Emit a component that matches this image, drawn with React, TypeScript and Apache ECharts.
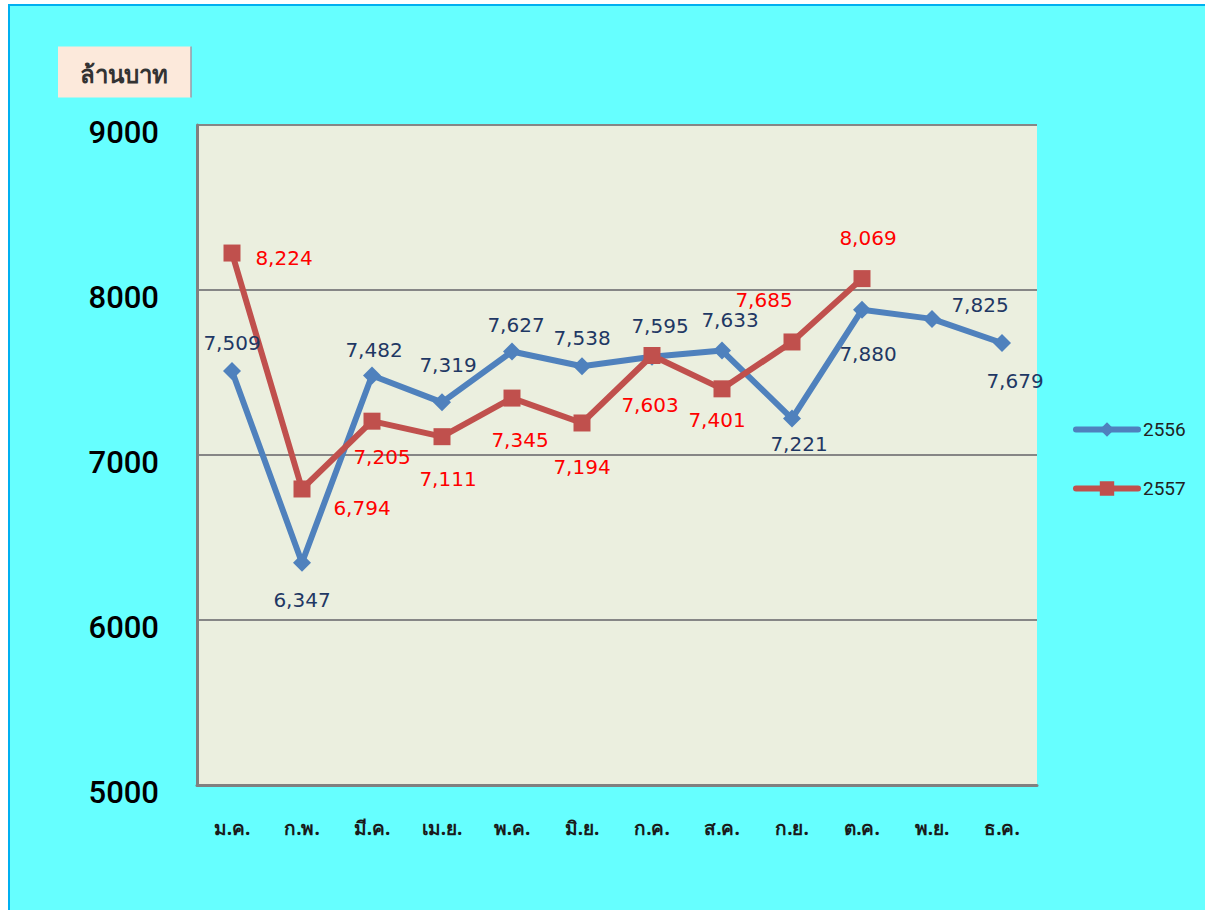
import React, { useEffect, useRef } from "react";
import * as echarts from "echarts";

const months = ["ม.ค.", "ก.พ.", "มี.ค.", "เม.ย.", "พ.ค.", "มิ.ย.", "ก.ค.", "ส.ค.", "ก.ย.", "ต.ค.", "พ.ย.", "ธ.ค."];
const values2556 = [7509, 6347, 7482, 7319, 7627, 7538, 7595, 7633, 7221, 7880, 7825, 7679];
const values2557 = [8224, 6794, 7205, 7111, 7345, 7194, 7603, 7401, 7685, 8069, null, null];
const seriesNames = ["2556", "2557"];
const unitLabel = "ล้านบาท";

// label offsets (placement config, relative to each point)
const offsets2556: number[][] = [
  [0, -28], [0, 37], [2, -25], [6, -37], [4, -27], [0, -28],
  [8, -31], [8, -31], [7, 25], [6, 44], [48, -14], [13, 38],
];
const offsets2557: number[][] = [
  [52, 5], [60, 19], [10, 36], [6, 42], [8, 42], [0, 44],
  [-2, 49], [-5, 31], [-28, -42], [6, -41], [0, 0], [0, 0],
];

const fmt = (v: number) => v.toLocaleString("en-US");

export default function App() {
  const ref = useRef<HTMLDivElement>(null);
  useEffect(() => {
    if (!ref.current) return;
    const chart = echarts.init(ref.current, null, { renderer: "svg" });
    const build = (vals: (number | null)[], offs: number[][]) =>
      vals.map((v, i) => (v == null ? null : { value: v, label: { offset: offs[i] } }));
    chart.setOption({
      animation: false,
      backgroundColor: "transparent",
      textStyle: { fontFamily: "'DejaVu Sans', 'Noto Sans', sans-serif" },
      grid: {
        left: 197,
        top: 125,
        width: 840,
        height: 660,
        show: true,
        backgroundColor: "#EBEFDF",
        borderWidth: 0,
      },
      legend: {
        orient: "vertical",
        left: 1073,
        top: 420,
        padding: 0,
        itemWidth: 62,
        itemHeight: 18,
        itemGap: 40,
        data: seriesNames,
        lineStyle: { width: 6, cap: "round" },
        textStyle: { fontSize: 19, color: "#222", fontFamily: "Roboto, sans-serif" },
      },
      xAxis: {
        type: "category",
        data: months,
        boundaryGap: true,
        axisLine: { show: true, lineStyle: { color: "#808080", width: 3 } },
        axisTick: { show: false },
        axisLabel: {
          margin: 33,
          fontSize: 19,
          fontWeight: "bold",
          color: "#1a1a1a",
          fontFamily: "'Noto Sans', sans-serif",
        },
      },
      yAxis: {
        type: "value",
        min: 5000,
        max: 9000,
        interval: 1000,
        axisLine: { show: true, lineStyle: { color: "#808080", width: 3 } },
        axisTick: { show: false },
        axisLabel: {
          margin: 38,
          fontSize: 31,
          fontWeight: 500,
          color: "#000",
          fontFamily: "Roboto, sans-serif",
          verticalAlign: "top",
          lineHeight: 14,
          formatter: (v: number) => String(v),
        },
        splitLine: { show: true, lineStyle: { color: "#868686", width: 2 } },
      },
      graphic: [
        {
          type: "group",
          left: 58,
          top: 44,
          children: [
            { type: "rect", shape: { x: 0, y: 0, width: 133, height: 51 }, style: { fill: "#FCE9DB" } },
            { type: "line", shape: { x1: 133, y1: 0, x2: 133, y2: 51 }, style: { stroke: "#9a9aa8", lineWidth: 1.5 } },
            {
              type: "text",
              x: 66,
              y: 27,
              style: {
                text: unitLabel,
                fontSize: 24,
                fontWeight: "bold",
                fill: "#333",
                align: "center",
                verticalAlign: "middle",
                fontFamily: "'Noto Sans', sans-serif",
              },
            },
          ],
        },
      ],
      series: [
        {
          name: seriesNames[0],
          type: "line",
          data: build(values2556, offsets2556),
          symbol: "diamond",
          symbolSize: 18,
          color: "#4F81BD",
          lineStyle: { width: 6, color: "#4F81BD" },
          itemStyle: { color: "#4F81BD" },
          label: {
            show: true,
            position: "inside",
            fontSize: 20,
            color: "#1F3864",
            formatter: (p: any) => fmt(Number(p.value)),
          },
        },
        {
          name: seriesNames[1],
          type: "line",
          data: build(values2557, offsets2557),
          symbol: "rect",
          symbolSize: 17,
          color: "#C0504D",
          lineStyle: { width: 6, color: "#C0504D" },
          itemStyle: { color: "#C0504D" },
          label: {
            show: true,
            position: "inside",
            fontSize: 20,
            color: "#FF0000",
            formatter: (p: any) => fmt(Number(p.value)),
          },
        },
      ],
    });
    return () => chart.dispose();
  }, []);
  return (
    <div style={{ position: "absolute", left: 0, top: 0, width: 1205, height: 910, overflow: "hidden" }}>
      <div
        style={{
          position: "absolute",
          left: 8,
          top: 4,
          width: 1197,
          height: 906,
          boxSizing: "border-box",
          background: "#66FFFF",
          borderTop: "2px solid #00B0F0",
          borderLeft: "2px solid #00B0F0",
        }}
      />
      <div ref={ref} style={{ position: "absolute", left: 0, top: 0, width: 1205, height: 910 }} />
    </div>
  );
}
